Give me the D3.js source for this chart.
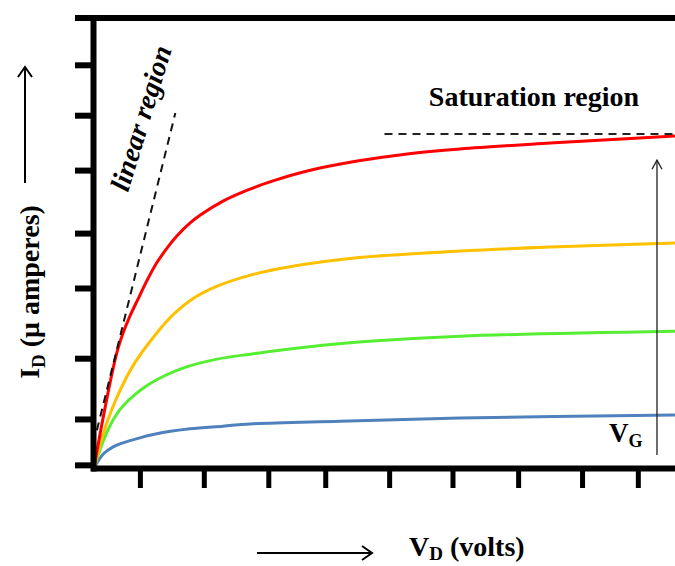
<!DOCTYPE html>
<html>
<head>
<meta charset="utf-8">
<script src="https://cdn.jsdelivr.net/npm/d3@7"></script>
<style>
  body { margin: 0; background: #fff; }
  text { font-family: "Liberation Serif", "Times New Roman", serif; font-weight: bold; fill: #000; }
</style>
</head>
<body>
<div id="chart"></div>
<script>
// ---------------- data ----------------
// [V_D (volts), I_D (uA)] for four gate voltages, lowest to highest
var bluePts   = [[0,0],[0.16,3.1],[0.33,4.7],[0.50,5.6],[0.79,6.7],[1.08,7.6],[1.65,8.7],[2.22,9.3],[2.69,9.8],[4.23,10.4],[6.30,11.1],[10,11.8]];
var greenPts  = [[0,0],[0.16,6.0],[0.33,10.7],[0.50,13.8],[0.96,18.7],[1.53,22.2],[2.12,24.2],[2.69,25.3],[3.67,26.9],[4.80,28.2],[6.30,29.3],[10,30.4]];
var yellowPts = [[0,0],[0.10,4.9],[0.24,10.7],[0.39,15.6],[0.67,22.7],[1.08,30.0],[1.39,34.4],[1.70,37.6],[2.12,40.4],[2.65,42.7],[3.37,44.7],[4.52,46.7],[6.30,48.2],[7.85,49.1],[10,50.0]];
var redPts    = [[0,0],[0.15,10.7],[0.33,22.2],[0.41,26.4],[0.50,30.0],[0.62,33.8],[0.76,37.6],[0.91,41.6],[1.08,45.6],[1.26,48.9],[1.43,51.6],[1.65,54.4],[1.83,56.2],[2.22,59.3],[2.65,61.8],[3.08,63.8],[3.67,66.0],[4.53,68.2],[5.39,69.8],[6.30,70.9],[7.85,72.2],[10,73.8]];
var seriesColors = ["#4f81bd", "#55ee33", "#ffc000", "#ff0000"];

var xTicks = [0.79, 1.89, 3.0, 3.98, 5.08, 6.17, 7.30, 8.40, 9.36];
var yTicks = [0.7, 10.9, 24.4, 40.0, 52.2, 66.2, 78.4, 89.6];

var linearGuide = [[0.05, 8.4], [1.40, 78.9]];   // dashed "linear region" line
var satGuide    = [[5.0, 74.2], [10, 74.2]];      // dashed saturation level
var vgArrow     = [[9.69, 2.9], [9.69, 68.4]];    // V_G arrow

// ---------------- svg ----------------
var width = 675, height = 566;
var svg = d3.select("#chart").append("svg")
  .attr("width", width).attr("height", height);

var x = d3.scaleLinear().domain([0, 10]).range([94, 675]);
var y = d3.scaleLinear().domain([0, 100]).range([468, 18]);

var straight = d3.line()
  .x(function(d) { return x(d[0]); })
  .y(function(d) { return y(d[1]); });
var line = d3.line()
  .x(function(d) { return x(d[0]); })
  .y(function(d) { return y(d[1]); })
  .curve(d3.curveCatmullRom.alpha(0.5));

// curves
[bluePts, greenPts, yellowPts, redPts].forEach(function(pts, i) {
  svg.append("path")
    .attr("d", line(pts))
    .attr("fill", "none")
    .attr("stroke", seriesColors[i])
    .attr("stroke-width", 3);
});

// guides
svg.append("path")
  .attr("d", straight(linearGuide))
  .attr("fill", "none").attr("stroke", "#111").attr("stroke-width", 2)
  .attr("stroke-dasharray", "8,6");
svg.append("path")
  .attr("d", straight(satGuide))
  .attr("fill", "none").attr("stroke", "#222").attr("stroke-width", 2)
  .attr("stroke-dasharray", "8,6");

// axes
var yAxis = svg.append("g")
  .attr("transform", "translate(93,0)")
  .call(d3.axisLeft(y).tickValues(yTicks).tickSize(18).tickSizeOuter(0).tickFormat(""));
var xAxis = svg.append("g")
  .attr("transform", "translate(0,468)")
  .call(d3.axisBottom(x).tickValues(xTicks).tickSize(20).tickSizeOuter(0).tickFormat(""));
[yAxis, xAxis].forEach(function(g) {
  g.select(".domain").attr("stroke", "#000").attr("stroke-width", 6).attr("stroke-linecap", "square");
  g.selectAll(".tick line").attr("stroke", "#000").attr("stroke-width", 6);
});
xAxis.selectAll(".tick line").attr("stroke-width", 5);
// top border line
svg.append("line")
  .attr("x1", 75).attr("x2", 675).attr("y1", y(100)).attr("y2", y(100))
  .attr("stroke", "#000").attr("stroke-width", 6);

// V_G arrow
var vx = x(vgArrow[0][0]), vy0 = y(vgArrow[0][1]), vy1 = y(vgArrow[1][1]);
svg.append("line").attr("x1", vx).attr("x2", vx).attr("y1", vy0).attr("y2", vy1)
  .attr("stroke", "#222").attr("stroke-width", 1.3);
svg.append("path")
  .attr("d", "M" + (vx - 5) + "," + (vy1 + 9) + "L" + vx + "," + vy1 + "L" + (vx + 5) + "," + (vy1 + 9))
  .attr("fill", "none").attr("stroke", "#222").attr("stroke-width", 1.3);
var vg = svg.append("text").attr("x", 609).attr("y", 442).style("font-size", "27px");
vg.append("tspan").text("V");
vg.append("tspan").attr("dy", 5).style("font-size", "18px").text("G");

// labels
svg.append("text")
  .attr("x", 534).attr("y", 106)
  .attr("text-anchor", "middle")
  .style("font-size", "28px")
  .text("Saturation region");

svg.append("text")
  .attr("transform", "translate(150,121) rotate(-73)")
  .attr("text-anchor", "middle")
  .style("font-size", "28px").style("font-style", "italic")
  .text("linear region");

// y label + arrow
var yl = svg.append("text")
  .attr("transform", "translate(39,292) rotate(-90)")
  .attr("text-anchor", "middle")
  .style("font-size", "28px");
yl.append("tspan").text("I");
yl.append("tspan").attr("dy", 6).style("font-size", "19px").text("D");
yl.append("tspan").attr("dy", -6).text(" (\u03bc amperes)");
svg.append("line").attr("x1", 25).attr("x2", 25).attr("y1", 183).attr("y2", 67)
  .attr("stroke", "#000").attr("stroke-width", 2);
svg.append("path").attr("d", "M18,77L25,67L32,77")
  .attr("fill", "none").attr("stroke", "#000").attr("stroke-width", 2);

// x label + arrow
var xl = svg.append("text").attr("x", 409).attr("y", 556).style("font-size", "28px");
xl.append("tspan").text("V");
xl.append("tspan").attr("dy", 4).style("font-size", "19px").text("D");
xl.append("tspan").attr("dy", -4).text(" (volts)");
svg.append("line").attr("x1", 257).attr("x2", 372).attr("y1", 553).attr("y2", 553)
  .attr("stroke", "#000").attr("stroke-width", 2);
svg.append("path").attr("d", "M362,546L372,553L362,560")
  .attr("fill", "none").attr("stroke", "#000").attr("stroke-width", 2);
</script>
</body>
</html>
